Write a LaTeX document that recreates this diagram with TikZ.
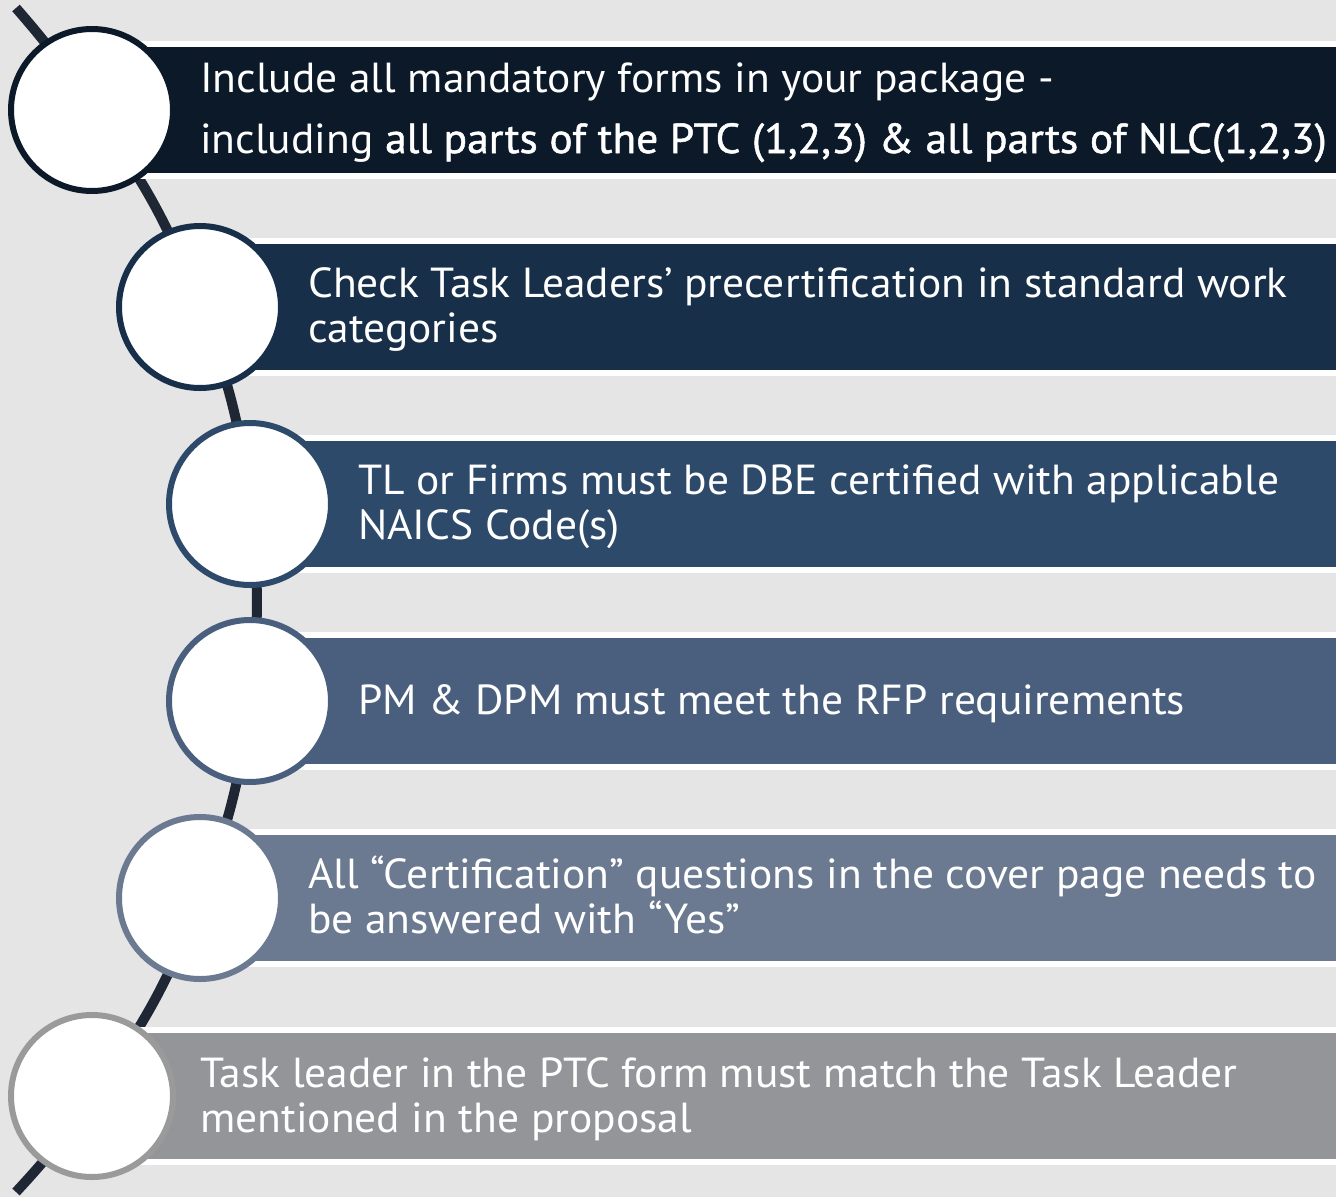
\documentclass[tikz,border=0pt]{standalone}
\usepackage{fontspec}
\setmainfont{PT Sans}
\newfontfamily\bodyf[FakeStretch=1.035]{PT Sans}
\newfontfamily\semif[FakeStretch=1.035,FakeBold=1.2]{PT Sans}
\definecolor{bgc}{HTML}{E5E5E5}
\definecolor{cA}{HTML}{0B1929}
\definecolor{cB}{HTML}{182F4A}
\definecolor{cC}{HTML}{2E4A6B}
\definecolor{cD}{HTML}{4A5F7E}
\definecolor{cE}{HTML}{6B7A91}
\definecolor{cF}{HTML}{939598}
\definecolor{bF}{HTML}{9A9A9A}
\definecolor{linec}{HTML}{1E2733}
\tikzset{
  band/.style={fill=white},
  bar/.style={fill=#1},
  ring/.style={circle, draw=#1, line width=6pt, fill=white, minimum size=162pt, inner sep=0pt},
  conn/.style={draw=linec, line width=10pt},
  txt/.style={text=white, anchor=base west, inner sep=0pt, font=\bodyf\fontsize{42}{45}\selectfont},
}
\begin{document}
\begin{tikzpicture}[x=1pt,y=-1pt]
\fill[bgc] (0,0) rectangle (1336,1197);
\useasboundingbox (0,0) rectangle (1336,1197);
% connector
\coordinate (ctop) at (16,8);
\coordinate (cbot) at (16,1192);
\coordinate (p1) at (92,110);
\coordinate (p2) at (200,307);
\coordinate (p3) at (250,504);
\coordinate (p4) at (250,701);
\coordinate (p5) at (200,898);
\coordinate (p6) at (92,1096);
\draw[conn] (ctop) to[bend left=4.5] (p1) to[bend left=7.9] (p2) to[bend left=7.1] (p3)
  to[bend left=6.9] (p4) to[bend left=7.1] (p5) to[bend left=7.9] (p6) to[bend left=4.5] (cbot);
% bars
\foreach \cx/\cy/\col in {92/110/cA, 200/307/cB, 250/504/cC, 250/701/cD, 200/898/cE, 92/1096/cF}{
  \fill[band] (\cx,\cy-69) rectangle (1336,\cy+69);
  \fill[bar=\col] (\cx,\cy-63) rectangle (1336,\cy+63);
}
% circles
\node[ring=cA] (n1) at (p1) {};
\node[ring=cB] (n2) at (p2) {};
\node[ring=cC] (n3) at (p3) {};
\node[ring=cD] (n4) at (p4) {};
\node[ring=cE] (n5) at (p5) {};
\node[ring=bF] (n6) at (p6) {};
% texts
\node[txt] (t1a) at (200,92) {Include all mandatory forms in your package -};
\node[txt] (t1b) at (200,153) {including {\semif all parts of the PTC (1,2,3) \& all parts of NLC(1,2,3)}};
\node[txt] (t2a) at (308,297) {Check Task Leaders’ precertification in standard work};
\node[txt] (t2b) at (308,342) {categories};
\node[txt] (t3a) at (358,494) {TL or Firms must be DBE certified with applicable};
\node[txt] (t3b) at (358,539) {NAICS Code(s)};
\node[txt] (t4a) at (358,714) {PM \& DPM must meet the RFP requirements};
\node[txt] (t5a) at (308,888) {All “Certification” questions in the cover page needs to};
\node[txt] (t5b) at (308,933) {be answered with “Yes”};
\node[txt] (t6a) at (200,1087) {Task leader in the PTC form must match the Task Leader};
\node[txt] (t6b) at (200,1132) {mentioned in the proposal};
\end{tikzpicture}
\end{document}
